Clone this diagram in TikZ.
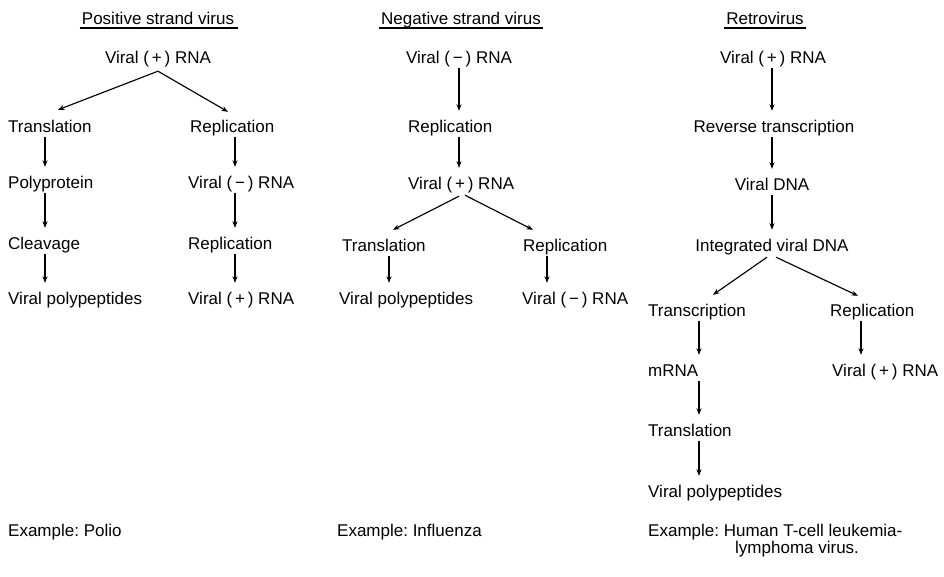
\documentclass[tikz,border=0pt]{standalone}
\usepackage{fontspec}
\setmainfont{Liberation Sans}
\usetikzlibrary{arrows.meta}
\frenchspacing
\begin{document}
\begin{tikzpicture}[x=1pt,y=-1pt,
  lbl/.style={inner sep=0pt, font=\fontsize{17}{20}\selectfont\frenchspacing, text height=12pt, text depth=4pt},
  arr/.style={line width=1.15pt, -{Stealth[length=6.5pt,width=5pt]}, shorten <=1pt, shorten >=9pt},
  darr/.style={line width=1.15pt, -{Stealth[length=6.5pt,width=5pt]}},
  uline/.style={line width=1.1pt}]
\useasboundingbox (0,0) rectangle (944,576);
\fill[white] (0,0) rectangle (944,576);

% ---------- Column 1: Positive strand virus ----------
\node[lbl,anchor=base] (t1) at (158,24) {Positive strand virus};
\draw[uline] ([xshift=-2pt,yshift=-4pt]t1.base west) -- ([xshift=4pt,yshift=-4pt]t1.base east);
\node[lbl,anchor=base] (p0) at (158,63) {Viral (\,+\,) RNA};
\node[lbl,anchor=base west] (p1) at (8,132) {Translation};
\node[lbl,anchor=base west] (p2) at (190,132) {Replication};
\node[lbl,anchor=base west] (p3) at (8,188) {Polyprotein};
\node[lbl,anchor=base west] (p4) at (188,188) {Viral (\,−\,) RNA};
\node[lbl,anchor=base west] (p5) at (8,249) {Cleavage};
\node[lbl,anchor=base west] (p6) at (188,249) {Replication};
\node[lbl,anchor=base west] (p7) at (8,304) {Viral polypeptides};
\node[lbl,anchor=base west] (p8) at (188,304) {Viral (\,+\,) RNA};
\node[lbl,anchor=base west] (p9) at (8,536) {Example: Polio};

\draw[darr] ([yshift=-4pt]p0.south) -- ([xshift=50pt,yshift=10pt]p1.north west);
\draw[darr] ([yshift=-4pt]p0.south) -- ([xshift=38pt,yshift=8pt]p2.north west);
\draw[arr] ([xshift=37pt]p1.south west) -- ([xshift=37pt]p1.south west |- p3.north);
\draw[arr] ([xshift=37pt]p3.south west) -- ([xshift=37pt]p3.south west |- p5.north);
\draw[arr] ([xshift=37pt]p5.south west) -- ([xshift=37pt]p5.south west |- p7.north);
\draw[arr] ([xshift=45pt]p2.south west) -- ([xshift=45pt]p2.south west |- p4.north);
\draw[arr] ([xshift=47pt]p4.south west) -- ([xshift=47pt]p4.south west |- p6.north);
\draw[arr] ([xshift=47pt]p6.south west) -- ([xshift=47pt]p6.south west |- p8.north);

% ---------- Column 2: Negative strand virus ----------
\node[lbl,anchor=base] (t2) at (461,24) {Negative strand virus};
\draw[uline] ([xshift=-2pt,yshift=-4pt]t2.base west) -- ([xshift=2pt,yshift=-4pt]t2.base east);
\node[lbl,anchor=base] (n0) at (459,63) {Viral (\,−\,) RNA};
\node[lbl,anchor=base west] (n1) at (408,132) {Replication};
\node[lbl,anchor=base west] (n2) at (408,189) {Viral (\,+\,) RNA};
\node[lbl,anchor=base west] (n3) at (342,251) {Translation};
\node[lbl,anchor=base west] (n4) at (523,251) {Replication};
\node[lbl,anchor=base west] (n5) at (339,304) {Viral polypeptides};
\node[lbl,anchor=base west] (n6) at (522,304) {Viral (\,−\,) RNA};
\node[lbl,anchor=base west] (n7) at (337,536) {Example: Influenza};

\draw[arr] (n0.south) -- (n0.south |- n1.north);
\draw[arr] (n0.south |- n1.south) -- (n0.south |- n2.north);
\draw[darr] ([xshift=51pt,yshift=-3pt]n2.south west) -- ([xshift=51pt,yshift=9pt]n3.north west);
\draw[darr] ([xshift=57pt,yshift=-2pt]n2.south west) -- ([xshift=10pt,yshift=9pt]n4.north west);
\draw[arr] ([xshift=47pt]n3.south west) -- ([xshift=47pt]n3.south west |- n5.north);
\draw[arr] ([xshift=24pt]n4.south west) -- ([xshift=24pt]n4.south west |- n6.north);

% ---------- Column 3: Retrovirus ----------
\node[lbl,anchor=base] (t3) at (765,24) {Retrovirus};
\draw[uline] ([xshift=-2pt,yshift=-4pt]t3.base west) -- ([xshift=2pt,yshift=-4pt]t3.base east);
\node[lbl,anchor=base] (r0) at (773,63) {Viral (\,+\,) RNA};
\node[lbl,anchor=base] (r1) at (774,132) {Reverse transcription};
\node[lbl,anchor=base] (r2) at (772,190) {Viral DNA};
\node[lbl,anchor=base] (r3) at (772,251) {Integrated viral DNA};
\node[lbl,anchor=base west] (r4) at (648,316) {Transcription};
\node[lbl,anchor=base west] (r5) at (830,316) {Replication};
\node[lbl,anchor=base west] (r6) at (648,376) {mRNA};
\node[lbl,anchor=base west] (r7) at (832,376) {Viral (\,+\,) RNA};
\node[lbl,anchor=base west] (r8) at (648,436) {Translation};
\node[lbl,anchor=base west] (r9) at (648,497) {Viral polypeptides};
\node[lbl,anchor=base west] (r10) at (648,536) {Example: Human T-cell leukemia-};
\node[lbl,anchor=base west] (r11) at (735,553) {lymphoma virus.};

\draw[arr] (r2.south |- r0.south) -- (r2.south |- r1.north);
\draw[arr] (r2.south |- r1.south) -- (r2.north);
\draw[arr] (r2.south) -- (r2.south |- r3.north);
\draw[darr] ([xshift=-5pt,yshift=-2pt]r3.south) -- ([xshift=65pt,yshift=9pt]r4.north west);
\draw[darr] ([xshift=4pt,yshift=-2pt]r3.south) -- ([xshift=28pt,yshift=8pt]r5.north west);
\draw[arr] ([xshift=51pt]r4.south west) -- ([xshift=51pt]r4.south west |- r6.north);
\draw[arr] ([xshift=51pt]r6.south west) -- ([xshift=51pt]r6.south west |- r8.north);
\draw[arr] ([xshift=51pt]r8.south west) -- ([xshift=51pt]r8.south west |- r9.north);
\draw[arr] ([xshift=31pt]r5.south west) -- ([xshift=31pt]r5.south west |- r7.north);
\end{tikzpicture}
\end{document}
